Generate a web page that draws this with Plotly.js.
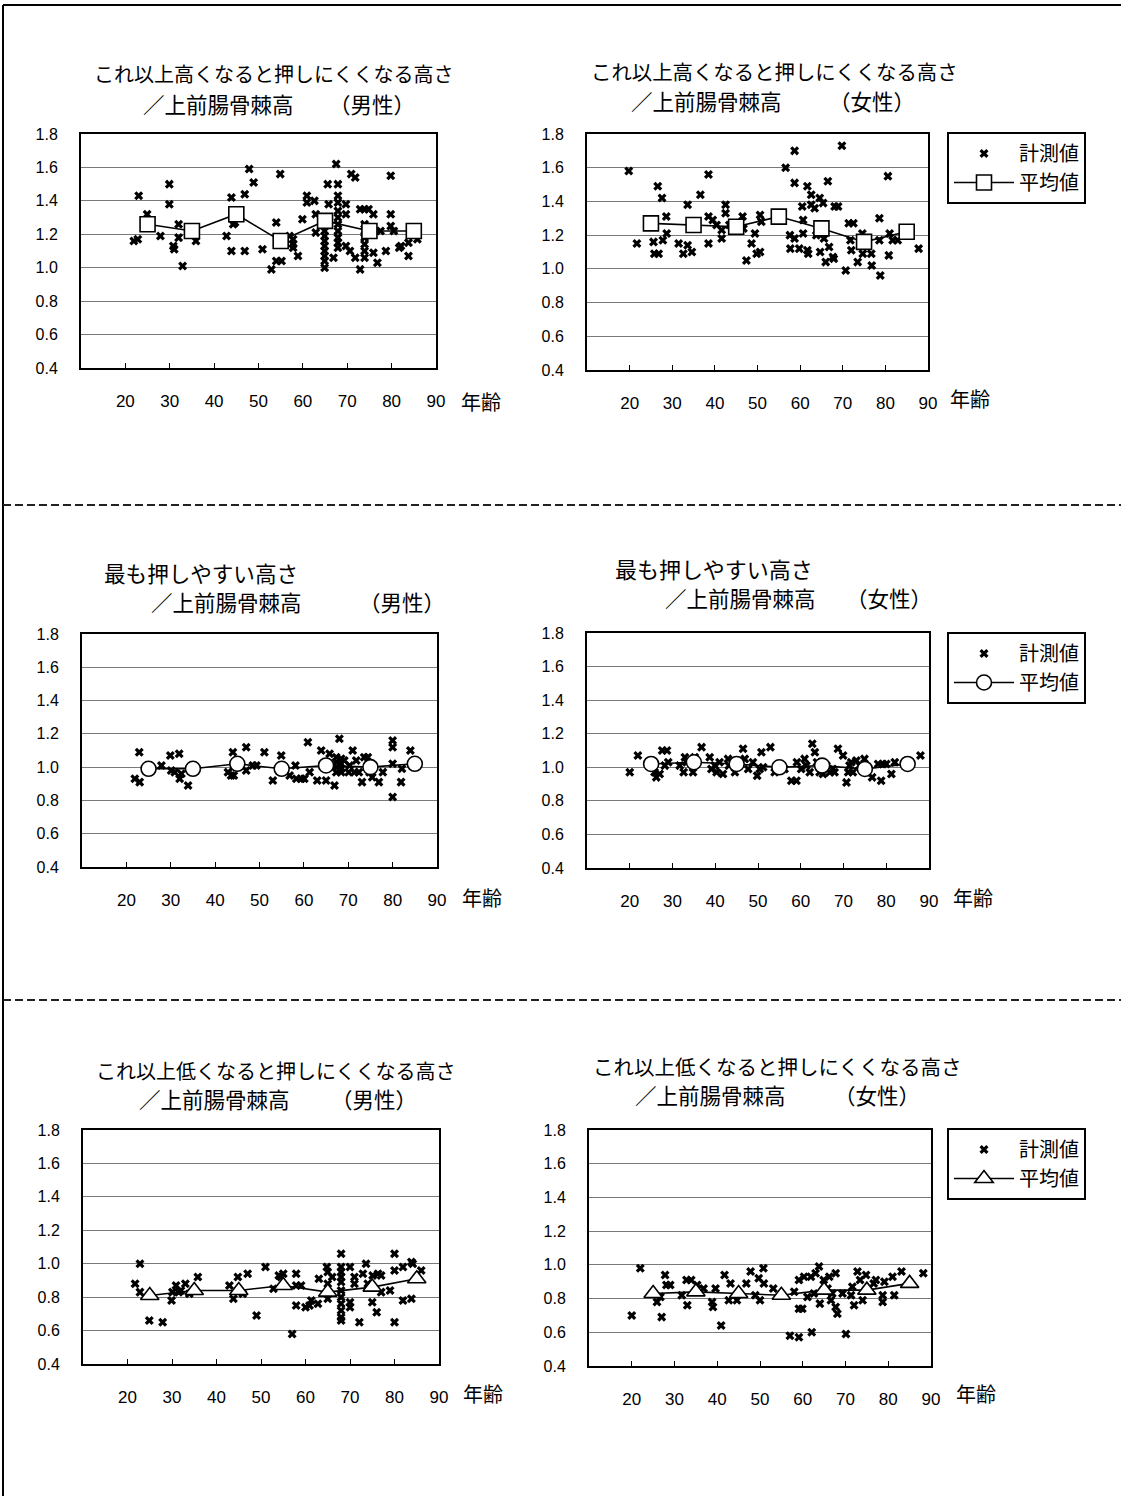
<!DOCTYPE html>
<html>
<head>
<meta charset="utf-8">
<script src="https://cdn.plot.ly/plotly-3.0.1.min.js"></script>
<style>
  html, body { margin: 0; padding: 0; background: #fff; }
  #chart { width: 1121px; height: 1496px; }
</style>
</head>
<body>
<div id="chart"></div>
<script>
// Age groups for the mean values (20s ... 80s)
const meanAges = [25, 35, 45, 55, 65, 75, 85];

// これ以上高くなると押しにくくなる高さ（男性）
const highMaleAge = [21.9,22.8,23.0,24.9,27.9,29.9,29.9,30.8,31.0,32.0,32.0,32.9,35.9,42.8,43.9,43.9,44.3,44.7,46.9,46.9,47.9,48.9,50.9,52.9,54.0,54.0,54.9,55.2,57.0,57.8,57.8,57.8,58.9,59.9,60.9,60.9,62.6,62.9,62.9,
  64.9,64.9,64.9,64.9,64.9,64.9,64.9,64.9,65.6,65.8,66.9,67.5,
  67.9,67.9,67.9,67.9,67.9,67.9,67.9,67.9,67.9,67.9,
  69.7,69.7,69.7,70.6,70.9,71.8,71.8,72.9,72.9,
  73.9,73.9,73.9,73.9,73.9,73.9,73.9,74.8,75.9,75.9,76.8,77.5,78.7,79.8,79.8,79.8,80.5,81.7,82.1,83.8,83.8,85.8];
const highMaleVal = [1.16,1.17,1.43,1.32,1.19,1.50,1.38,1.13,1.11,1.26,1.18,1.01,1.16,1.19,1.42,1.10,1.26,1.27,1.44,1.10,1.59,1.51,1.11,0.99,1.27,1.04,1.56,1.04,1.19,1.17,1.14,1.12,1.07,1.29,1.43,1.39,1.40,1.21,1.32,
  1.22,1.19,1.16,1.13,1.10,1.07,1.04,1.00,1.50,1.38,1.06,1.62,
  1.50,1.43,1.39,1.34,1.30,1.26,1.22,1.18,1.15,1.12,
  1.38,1.32,1.13,1.10,1.56,1.54,1.06,0.99,1.35,
  1.35,1.26,1.22,1.18,1.14,1.10,1.06,1.35,1.32,1.09,1.03,1.22,1.10,1.55,1.32,1.25,1.22,1.12,1.13,1.07,1.15,1.17];
const highMaleMean = [1.26, 1.22, 1.32, 1.16, 1.28, 1.22, 1.22];

// これ以上高くなると押しにくくなる高さ（女性）
const highFemaleAge = [19.8,21.7,25.6,25.8,26.6,26.8,27.6,27.8,28.6,28.7,31.5,32.6,33.6,33.6,34.6,36.6,38.5,38.5,38.5,39.5,40.4,41.6,41.6,42.5,42.5,43.4,46.5,46.7,47.4,48.6,49.4,49.8,50.6,50.6,50.9,
  56.6,57.6,57.7,58.7,58.7,58.7,59.8,60.5,60.7,60.7,61.7,61.7,61.9,62.6,62.6,63.4,63.8,64.6,64.7,65.4,65.6,66.0,66.5,66.8,67.7,67.9,68.1,68.9,69.8,
  70.7,71.4,71.8,72.0,72.5,73.5,74.6,74.7,76.7,76.8,78.6,78.8,78.6,80.6,80.8,81.0,81.7,82.9,87.8];
const highFemaleVal = [1.58,1.15,1.16,1.09,1.49,1.09,1.42,1.17,1.31,1.21,1.15,1.09,1.38,1.14,1.10,1.44,1.56,1.15,1.31,1.29,1.26,1.23,1.18,1.38,1.33,1.26,1.31,1.24,1.05,1.15,1.21,1.09,1.10,1.32,1.28,
  1.60,1.20,1.12,1.70,1.51,1.18,1.12,1.37,1.29,1.21,1.49,1.11,1.09,1.44,1.38,1.36,1.20,1.42,1.10,1.39,1.18,1.04,1.52,1.13,1.07,1.06,1.37,1.37,1.73,
  0.99,1.27,1.17,1.11,1.27,1.04,1.21,1.09,1.09,1.02,1.30,0.96,1.17,1.55,1.08,1.21,1.17,1.17,1.12];
const highFemaleMean = [1.27, 1.26, 1.25, 1.31, 1.24, 1.16, 1.22];

// 最も押しやすい高さ（男性）
const easyMaleAge = [21.9,22.9,23.0,27.9,29.9,30.1,30.9,31.9,32.0,32.4,33.9,42.9,43.6,44.0,44.2,47.0,47.0,48.5,49.3,51.1,53.0,54.9,56.8,58.1,58.3,59.4,60.1,60.9,61.3,63.0,63.9,64.3,65.0,65.8,66.9,
  67.3,67.3,67.3,67.3,68.0,68.4,68.4,68.4,68.4,69.1,70.1,70.3,71.0,71.4,71.8,72.4,73.1,73.6,74.4,74.8,75.4,76.9,77.8,80.0,80.0,80.0,80.0,81.9,82.1,84.0];
const easyMaleVal = [0.93,1.09,0.91,1.01,1.07,0.98,0.97,1.08,0.93,0.96,0.89,0.97,0.95,1.09,0.95,1.12,0.98,1.01,1.01,1.09,0.92,1.07,0.95,1.01,0.93,0.93,0.93,1.15,0.97,0.92,1.10,1.01,0.92,1.08,0.89,
  1.06,1.03,1.00,0.97,1.17,1.05,1.02,0.99,0.97,1.04,0.97,1.01,1.10,0.97,1.04,0.97,0.91,1.06,1.06,0.97,0.94,0.91,0.97,1.16,1.12,1.02,0.82,0.91,0.99,1.10];
const easyMaleMean = [0.99, 0.99, 1.02, 0.99, 1.01, 1.00, 1.02];

// 最も押しやすい高さ（女性）
const easyFemaleAge = [20.0,21.9,25.8,26.2,27.0,27.6,28.7,28.2,29.0,31.7,32.6,32.9,33.3,34.8,35.2,36.8,38.7,39.1,39.9,40.3,41.0,41.8,43.0,43.2,44.6,46.5,46.9,47.7,48.8,49.8,50.4,50.8,51.2,52.9,53.9,
  56.2,57.8,59.0,59.1,60.1,60.9,61.3,62.1,62.7,63.3,63.8,64.4,65.2,66.0,66.8,67.5,67.9,68.7,69.9,70.7,71.1,71.4,71.8,72.2,73.0,73.8,74.9,75.3,76.7,78.1,78.8,79.2,80.0,81.2,82.0,88.0];
const easyFemaleVal = [0.97,1.07,0.97,0.94,0.96,1.10,1.10,1.01,1.03,1.01,0.97,1.06,1.03,0.97,1.06,1.12,1.06,0.99,1.01,0.97,1.03,0.96,1.05,1.01,0.97,1.11,1.05,0.99,1.03,0.95,0.99,1.09,1.00,1.12,0.97,
  0.99,0.92,0.92,1.03,0.99,1.05,1.01,0.97,1.14,1.09,1.03,0.97,0.96,1.01,0.97,0.99,0.97,1.11,1.07,0.91,0.97,1.01,1.03,0.97,1.04,1.01,1.05,0.97,0.94,1.02,0.92,1.02,1.02,0.96,1.03,1.07];
const easyFemaleMean = [1.02, 1.03, 1.02, 1.00, 1.01, 0.99, 1.02];

// これ以上低くなると押しにくくなる高さ（男性）
const lowMaleAge = [21.7,22.8,22.8,24.9,27.9,29.9,30.1,30.9,31.5,32.0,33.0,33.9,35.8,42.9,43.8,44.8,45.9,47.0,49.0,51.0,52.8,54.0,54.5,55.0,57.0,57.9,57.9,57.9,59.0,60.0,60.9,61.3,62.8,63.0,
  64.8,65.0,65.0,65.0,66.0,68.0,68.0,68.0,68.0,68.0,68.0,68.0,68.0,68.0,68.0,68.0,
  70.0,70.0,70.0,71.0,71.0,72.1,72.9,73.6,74.0,75.0,75.1,76.0,76.3,77.0,77.0,79.0,80.0,80.0,80.0,81.9,81.9,83.8,83.8,84.1,86.0];
const lowMaleVal = [0.88,1.00,0.83,0.66,0.65,0.78,0.83,0.87,0.83,0.84,0.88,0.82,0.92,0.87,0.79,0.92,0.82,0.94,0.69,0.98,0.85,0.93,0.92,0.94,0.58,0.94,0.87,0.75,0.87,0.74,0.75,0.78,0.76,0.91,
  0.98,0.95,0.88,0.79,0.92,1.06,0.98,0.95,0.92,0.89,0.84,0.80,0.76,0.72,0.68,0.66,
  0.98,0.77,0.74,0.92,0.88,0.65,0.94,1.00,0.88,0.77,0.93,0.71,0.94,0.93,0.83,0.84,1.06,0.96,0.65,0.98,0.78,1.01,0.79,1.00,0.96];
const lowMaleMean = [0.81, 0.84, 0.84, 0.87, 0.83, 0.86, 0.91];

// これ以上低くなると押しにくくなる高さ（女性）
const lowFemaleAge = [20.0,22.0,25.9,26.7,27.0,27.8,28.1,29.0,31.7,32.8,33.0,33.9,35.3,36.8,38.8,39.0,39.6,40.9,41.7,42.7,43.1,44.6,46.8,47.8,48.9,49.7,50.0,50.8,50.9,53.1,
  57.0,58.0,59.1,59.1,59.9,59.1,60.3,61.1,61.9,62.1,62.6,63.0,63.8,64.0,64.9,65.8,66.2,66.6,66.9,67.7,67.7,68.1,69.3,70.1,71.3,71.6,72.0,72.8,73.4,74.0,74.8,76.6,77.1,78.7,78.7,79.1,81.0,81.4,83.1,88.2];
const lowFemaleVal = [0.70,0.98,0.78,0.81,0.69,0.94,0.88,0.88,0.82,0.91,0.76,0.91,0.88,0.86,0.78,0.75,0.86,0.64,0.94,0.79,0.89,0.79,0.89,0.96,0.82,0.92,0.79,0.98,0.89,0.86,
  0.58,0.84,0.91,0.74,0.74,0.57,0.93,0.81,0.93,0.60,0.83,0.95,0.99,0.77,0.91,0.86,0.93,0.79,0.83,0.95,0.75,0.71,0.83,0.59,0.82,0.87,0.76,0.96,0.91,0.79,0.94,0.89,0.91,0.82,0.78,0.90,0.93,0.82,0.96,0.95];
const lowFemaleMean = [0.83, 0.84, 0.83, 0.82, 0.85, 0.85, 0.89];

const xTicks = [20, 30, 40, 50, 60, 70, 80, 90];
const yTicks = [0.4, 0.6, 0.8, 1.0, 1.2, 1.4, 1.6, 1.8];
const seriesNames = ['計測値', '平均値'];

const titleLine1 = ['これ以上高くなると押しにくくなる高さ', 'これ以上高くなると押しにくくなる高さ',
  '最も押しやすい高さ', '最も押しやすい高さ',
  'これ以上低くなると押しにくくなる高さ', 'これ以上低くなると押しにくくなる高さ'];
const titleLine2 = '／上前腸骨棘高';
const sexLabels = ['（男性）', '（女性）', '（男性）', '（女性）', '（男性）', '（女性）'];
const ageLabel = '年齢';

const panels = [
  { age: highMaleAge, val: highMaleVal, mean: highMaleMean, sym: 'square' },
  { age: highFemaleAge, val: highFemaleVal, mean: highFemaleMean, sym: 'square', legend: 'legend' },
  { age: easyMaleAge, val: easyMaleVal, mean: easyMaleMean, sym: 'circle' },
  { age: easyFemaleAge, val: easyFemaleVal, mean: easyFemaleMean, sym: 'circle', legend: 'legend2' },
  { age: lowMaleAge, val: lowMaleVal, mean: lowMaleMean, sym: 'triangle-up' },
  { age: lowFemaleAge, val: lowFemaleVal, mean: lowFemaleMean, sym: 'triangle-up', legend: 'legend3' }
];

// Page geometry (pixels)
const W = 1121, H = 1496;
const boxes = [
  { x0: 81, x1: 436, y0: 134, y1: 368 },
  { x0: 587, x1: 928, y0: 134, y1: 370 },
  { x0: 82, x1: 437, y0: 634, y1: 867 },
  { x0: 587, x1: 929, y0: 633, y1: 868 },
  { x0: 83, x1: 439, y0: 1130, y1: 1364 },
  { x0: 589, x1: 931, y0: 1130, y1: 1366 }
];
// Title rows: first line (left x, mid y, font size), second line, sex label, age label
const titlePos = [
  { l1: [93, 74, 20],  l2: [142, 102], sex: [328, 102], age: [460, 401] },
  { l1: [590, 71, 20.4], l2: [630, 100], sex: [828, 100], age: [949, 398] },
  { l1: [103, 572, 21.6], l2: [150, 601], sex: [358, 601], age: [461, 897] },
  { l1: [614, 568, 22], l2: [664, 597], sex: [845, 597], age: [952, 897] },
  { l1: [95, 1070, 20], l2: [138, 1097], sex: [330, 1097], age: [462, 1393] },
  { l1: [592, 1066, 20.5], l2: [634, 1093], sex: [833, 1093], age: [955, 1393] }
];
const legendTop = { legend: 132, legend2: 632, legend3: 1128 };

const px = v => v / W;
const py = v => 1 - v / H;

const cjk = '"Noto Sans CJK JP", "Noto Sans", sans-serif';
const num = '"Liberation Sans", Arial, sans-serif';

const traces = [];
const layout = {
  width: W, height: H,
  margin: { l: 0, r: 0, t: 0, b: 0 },
  paper_bgcolor: '#ffffff',
  plot_bgcolor: '#ffffff',
  showlegend: true,
  font: { family: num, color: '#000' },
  annotations: [],
  shapes: []
};

panels.forEach((p, i) => {
  const n = i === 0 ? '' : String(i + 1);
  const b = boxes[i];
  const hasLegend = !!p.legend;
  traces.push({
    type: 'scatter', mode: 'markers', name: seriesNames[0],
    x: p.age, y: p.val,
    xaxis: 'x' + n, yaxis: 'y' + n,
    marker: { symbol: 'x', size: 8, color: '#000' },
    showlegend: hasLegend, legend: p.legend || 'legend'
  });
  traces.push({
    type: 'scatter', mode: 'lines+markers', name: seriesNames[1],
    x: meanAges, y: p.mean,
    xaxis: 'x' + n, yaxis: 'y' + n,
    line: { color: '#000', width: 1.6 },
    marker: { symbol: p.sym, size: p.sym === 'triangle-up' ? 16 : 15, color: '#fff', line: { color: '#000', width: 1.6 } },
    showlegend: hasLegend, legend: p.legend || 'legend'
  });

  layout['xaxis' + n] = {
    domain: [px(b.x0), px(b.x1)],
    anchor: 'y' + n,
    range: [10, 90],
    tickvals: xTicks,
    ticks: 'inside', ticklen: 5, tickwidth: 1, tickcolor: '#000',
    ticklabelstandoff: 17,
    showgrid: false, zeroline: false,
    showline: true, mirror: true, linecolor: '#000', linewidth: 2,
    tickfont: { family: num, size: 17, color: '#000' },
    fixedrange: true
  };
  layout['yaxis' + n] = {
    domain: [py(b.y1), py(b.y0)],
    anchor: 'x' + n,
    range: [0.4, 1.8],
    tickvals: yTicks,
    tickformat: '.1f',
    ticks: '',
    ticklabelstandoff: 18,
    showgrid: true, gridcolor: '#7a7a7a', gridwidth: 1,
    zeroline: false,
    showline: true, mirror: true, linecolor: '#000', linewidth: 2,
    tickfont: { family: num, size: 16, color: '#000' },
    fixedrange: true
  };

  const t = titlePos[i];
  const ann = (text, x, y, size) => ({
    text, xref: 'paper', yref: 'paper', x: px(x), y: py(y),
    xanchor: 'left', yanchor: 'middle', showarrow: false, borderpad: 0,
    font: { family: cjk, size, color: '#000' }
  });
  layout.annotations.push(ann(titleLine1[i], t.l1[0], t.l1[1], t.l1[2]));
  layout.annotations.push(ann(titleLine2, t.l2[0], t.l2[1] + 1, 21.5));
  layout.annotations.push(ann(sexLabels[i], t.sex[0], t.sex[1] + 1, 21.5));
  layout.annotations.push(ann(ageLabel, t.age[0], t.age[1], 20));

  if (hasLegend) {
    layout[p.legend] = {
      x: px(947), y: py(legendTop[p.legend]),
      xanchor: 'left', yanchor: 'top',
      bgcolor: '#fff', bordercolor: '#000', borderwidth: 2,
      font: { family: cjk, size: 20, color: '#000' },
      itemwidth: 60, tracegroupgap: 0,
      itemclick: false, itemdoubleclick: false
    };
  }
});

// Page frame and dashed separators
layout.shapes.push(
  { type: 'line', xref: 'paper', yref: 'paper', x0: px(3), x1: 1, y0: py(5), y1: py(5), line: { color: '#000', width: 2 } },
  { type: 'line', xref: 'paper', yref: 'paper', x0: px(3), x1: px(3), y0: py(5), y1: 0, line: { color: '#000', width: 2 } },
  { type: 'line', xref: 'paper', yref: 'paper', x0: px(3), x1: 1, y0: py(505), y1: py(505), line: { color: '#222', width: 2, dash: '8px,4px' } },
  { type: 'line', xref: 'paper', yref: 'paper', x0: px(3), x1: 1, y0: py(1000), y1: py(1000), line: { color: '#222', width: 2, dash: '8px,4px' } }
);

Plotly.newPlot('chart', traces, layout, { displayModeBar: false, staticPlot: true });
</script>
</body>
</html>
